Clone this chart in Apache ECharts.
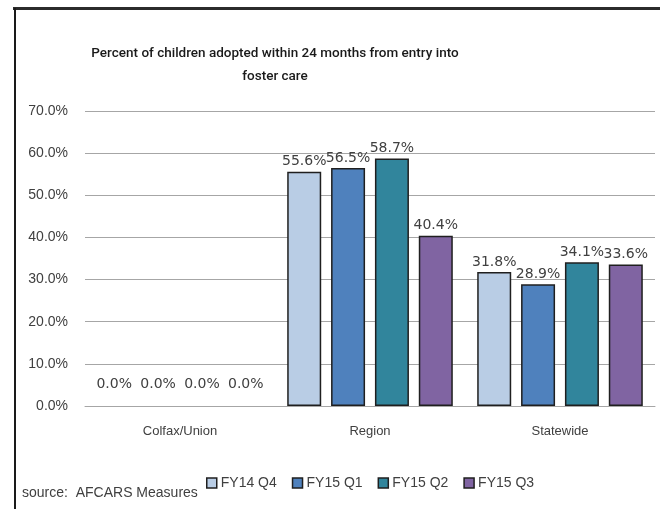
<!DOCTYPE html>
<html><head><meta charset="utf-8">
<script src="https://cdn.jsdelivr.net/npm/echarts@6/dist/echarts.min.js"></script>
<style>html,body{margin:0;padding:0;background:#fff}#c{width:660px;height:509px}</style>
</head><body><div id="c"></div>
<script>
const categories = ['Colfax/Union', 'Region', 'Statewide'];
const seriesNames = ['FY14 Q4', 'FY15 Q1', 'FY15 Q2', 'FY15 Q3'];
const fy14q4 = [0.0, 55.6, 31.8];
const fy15q1 = [0.0, 56.5, 28.9];
const fy15q2 = [0.0, 58.7, 34.1];
const fy15q3 = [0.0, 40.4, 33.6];
const colors = ['#B9CDE5', '#4F81BD', '#31859C', '#8064A2'];
const yTicks = [0, 10, 20, 30, 40, 50, 60, 70];

const allValues = [fy14q4, fy15q1, fy15q2, fy15q3];
const chart = echarts.init(document.getElementById('c'), null, {renderer: 'canvas'});
const labelFont = 'DejaVu Sans';
const axisFont = 'Liberation Sans';

const series = allValues.map((vals, i) => ({
  name: seriesNames[i],
  type: 'bar',
  barWidth: 34,
  barGap: '29%',
  itemStyle: {color: colors[i], borderColor: '#1f1f1f', borderWidth: 1.5},
  label: {
    show: true, position: 'top', distance: 3,
    fontFamily: labelFont, fontSize: 14, color: '#404040',
    formatter: p => p.value.toFixed(1) + '%'
  },
  data: vals.map(v => v === 0 ? {value: v, label: {distance: 15}, itemStyle: {borderWidth: 0}} : v)
}));

chart.setOption({
  animation: false,
  backgroundColor: '#fff',
  title: {
    text: 'Percent of children adopted within 24 months from entry into\nfoster care',
    left: 270, top: 37, textAlign: 'center',
    textStyle: {fontFamily: 'Roboto', fontSize: 13.5, fontWeight: 500, color: '#1a1a1a', lineHeight: 23}
  },
  legend: {
    data: seriesNames,
    left: 206, top: 476, padding: 0,
    itemWidth: 10, itemHeight: 10, itemGap: 15,
    icon: 'rect',
    textStyle: {fontFamily: axisFont, fontSize: 14, color: '#404040', padding: [0, 0, 0, -1]},
    itemStyle: {borderColor: '#1f1f1f', borderWidth: 1.5}
  },
  grid: {left: 85, right: 5, top: 111, bottom: 103},
  xAxis: {
    type: 'category', data: categories,
    axisTick: {show: false},
    axisLine: {lineStyle: {color: '#a6a6a6', width: 1}},
    axisLabel: {fontFamily: axisFont, fontSize: 13, color: '#404040', margin: 19}
  },
  yAxis: {
    type: 'value', min: yTicks[0], max: yTicks[yTicks.length - 1], interval: 10,
    axisLine: {show: false}, axisTick: {show: false},
    splitLine: {lineStyle: {color: '#a6a6a6', width: 1}},
    axisLabel: {fontFamily: axisFont, fontSize: 14, color: '#404040', margin: 17,
      formatter: v => v.toFixed(1) + '%'}
  },
  series: series,
  graphic: [
    {type: 'rect', shape: {x: 13, y: 7, width: 660, height: 3}, style: {fill: '#2b2b2b'}, silent: true},
    {type: 'rect', shape: {x: 14, y: 8, width: 2, height: 510}, style: {fill: '#1a1a1a'}, silent: true},
    {type: 'text', left: 22, top: 486, style: {text: 'source:  AFCARS Measures', fontFamily: axisFont, fontSize: 14, fill: '#404040'}}
  ]
});
</script></body></html>
